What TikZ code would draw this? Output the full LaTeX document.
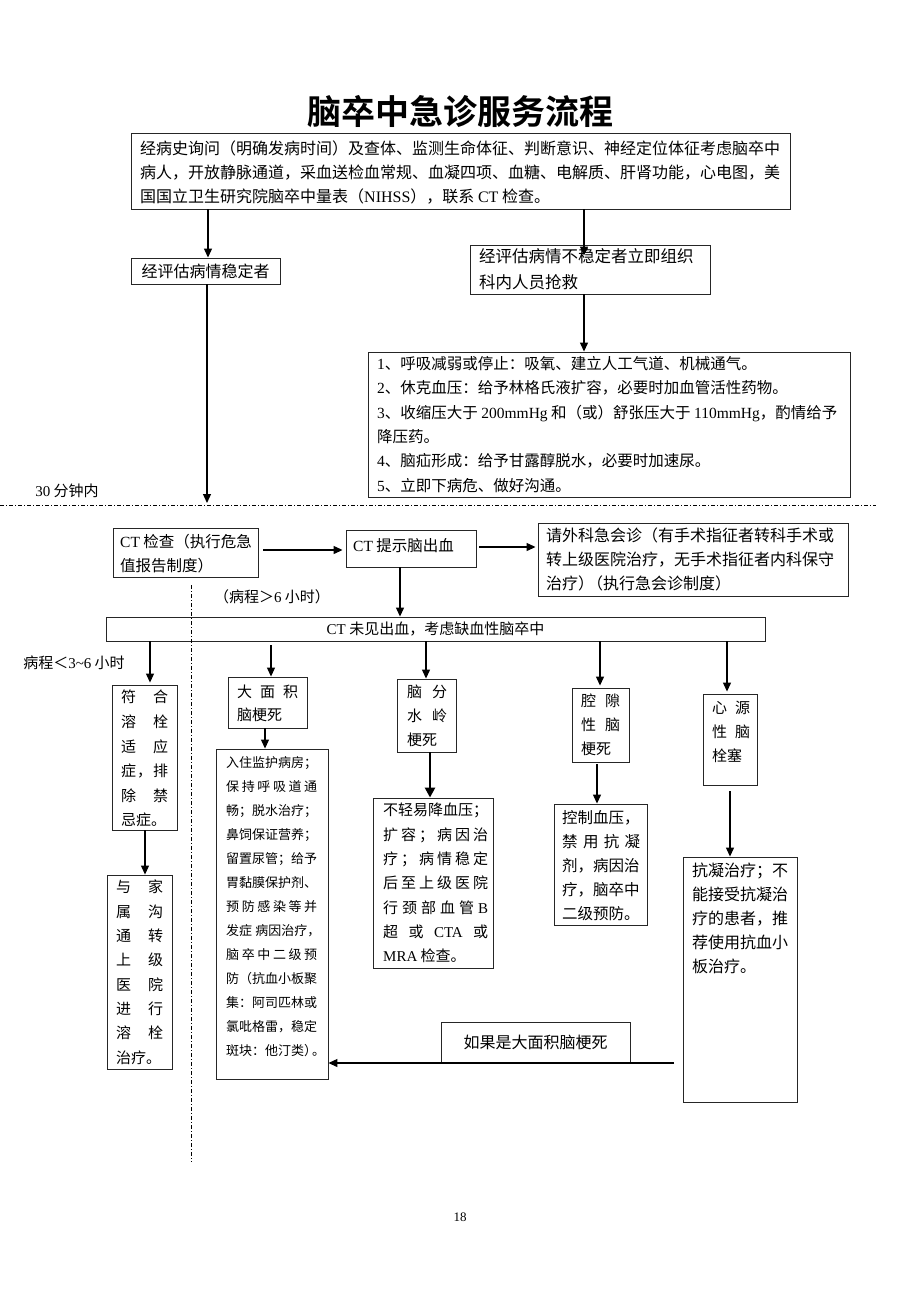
\documentclass[tikz,border=0pt]{standalone}
\usepackage{fontspec}
\setmainfont{Noto Sans CJK SC}[BoldFont={Noto Sans CJK SC Bold}]
\newfontfamily\serifnum{Liberation Serif}
\usetikzlibrary{arrows.meta}
\def\sprdA#1{\ifx#1\relax\else #1\expandafter\sprdB\fi}
\def\sprdB#1{\ifx#1\relax\else\hfill #1\expandafter\sprdB\fi}
\newcommand\J[2]{\hbox to #1{\sprdA#2\relax}}
\newcommand\fsz[2]{\fontsize{#1}{#2}\selectfont}
\newcommand\LT[1]{{\serifnum #1}}
\tikzset{
  bx/.style={draw=black!85, line width=0.9pt, inner sep=0pt},
  txt/.style={anchor=north west, inner sep=0pt, align=left},
  lbl/.style={inner sep=0pt},
  arr/.style={line width=1.2pt, -{Triangle[length=9pt,width=8pt]}},
  dd/.style={line width=0.8pt, dash pattern=on 4pt off 2pt on 1pt off 2pt}
}
\begin{document}
\begin{tikzpicture}[x=1pt,y=-1pt]
\fill[white] (0,0) rectangle (920,1302);
\useasboundingbox (0,0) rectangle (920,1302);

% title
\node[lbl,font=\fsz{34}{40}\bfseries] (title) at (460,112) {脑卒中急诊服务流程};

% boxes
\node[bx,minimum width=659pt,minimum height=76pt] (top) at (460.5,171) {};
\node[bx,minimum width=149pt,minimum height=26pt,font=\fsz{16}{20}] (stable) at (205.5,271) {经评估病情稳定者};
\node[bx,minimum width=240pt,minimum height=49pt] (unstab) at (590,269.5) {};
\node[bx,minimum width=482pt,minimum height=145pt] (meas) at (609,424.5) {};
\node[bx,minimum width=145pt,minimum height=49pt] (ct) at (185.5,552.5) {};
\node[bx,minimum width=130pt,minimum height=37pt] (hem) at (411,548.5) {};
\node[bx,minimum width=310pt,minimum height=73pt] (surg) at (693,559.5) {};
\node[bx,minimum width=659pt,minimum height=24pt,font=\fsz{15}{20}] (isch) at (435.5,629) {\LT{CT} 未见出血，考虑缺血性脑卒中};
\node[bx,minimum width=65pt,minimum height=145pt] (lys) at (144.5,757.5) {};
\node[bx,minimum width=65pt,minimum height=194pt] (fam) at (139.5,972) {};
\node[bx,minimum width=79pt,minimum height=51pt] (large) at (267.5,702.5) {};
\node[bx,minimum width=112pt,minimum height=330pt] (care) at (272,914) {};
\node[bx,minimum width=59pt,minimum height=73pt] (water) at (426.5,715.5) {};
\node[bx,minimum width=120pt,minimum height=170pt] (bp) at (433,883) {};
\node[bx,minimum width=57pt,minimum height=74pt] (lac) at (600.5,725) {};
\node[bx,minimum width=93pt,minimum height=121pt] (ctrl) at (600.5,864.5) {};
\node[bx,minimum width=54pt,minimum height=91pt] (card) at (730,739.5) {};
\node[bx,minimum width=114pt,minimum height=245pt] (anti) at (740,979.5) {};
\node[bx,minimum width=189pt,minimum height=41pt,font=\fsz{16}{20}] (ifl) at (535.5,1042.5) {如果是大面积脑梗死};

% texts
\node[txt,font=\fsz{16}{24}] (ttop) at (140,140.5) {经病史询问（明确发病时间）及查体、监测生命体征、判断意识、神经定位体征考虑脑卒中\\病人，开放静脉通道，采血送检血常规、血凝四项、血糖、电解质、肝肾功能，心电图，美\\国国立卫生研究院脑卒中量表（\LT{NIHSS}），联系 \LT{CT} 检查。};
\node[txt,font=\fsz{16.5}{26}] (tuns) at (479,248.6) {经评估病情不稳定者立即组织\\科内人员抢救};
\node[txt,font=\fsz{15.5}{24.4}] (tmeas) at (377,356) {\LT{1}、呼吸减弱或停止：吸氧、建立人工气道、机械通气。\\\LT{2}、休克血压：给予林格氏液扩容，必要时加血管活性药物。\\\LT{3}、收缩压大于 \LT{200mmHg} 和（或）舒张压大于 \LT{110mmHg}，酌情给予\\降压药。\\\LT{4}、脑疝形成：给予甘露醇脱水，必要时加速尿。\\\LT{5}、立即下病危、做好沟通。};
\node[txt,font=\fsz{15.5}{24}] (tct) at (120,534) {\LT{CT} 检查（执行危急\\值报告制度）};
\node[txt,font=\fsz{15.5}{24}] (themm) at (353,538) {\LT{CT} 提示脑出血};
\node[txt,font=\fsz{16}{24}] (tsurg) at (546,528) {请外科急会诊（有手术指征者转科手术或\\转上级医院治疗，无手术指征者内科保守\\治疗）\kern-0.45em（执行急会诊制度）};
\node[lbl,font=\fsz{15}{20}] (l30) at (67,491) {\LT{30} 分钟内};
\node[lbl,font=\fsz{15}{20}] (lgt6) at (272,597) {（病程＞\LT{6} 小时）};
\node[lbl,font=\fsz{15}{20}] (llt3) at (74,663) {病程＜\LT{3\textasciitilde 6} 小时};
\node[txt,font=\fsz{15}{24.6}] (tlys) at (121,690) {\J{47pt}{符合}\\\J{47pt}{溶栓}\\\J{47pt}{适应}\\\J{47pt}{症，排}\\\J{47pt}{除禁}\\忌症。};
\node[txt,font=\fsz{15}{24.3}] (tfam) at (116,880) {\J{47pt}{与家}\\\J{47pt}{属沟}\\\J{47pt}{通转}\\\J{47pt}{上级}\\\J{47pt}{医院}\\\J{47pt}{进行}\\\J{47pt}{溶栓}\\治疗。};
\node[txt,font=\fsz{15}{23}] (tlarge) at (237,685) {\J{61pt}{大面积}\\脑梗死};
\node[txt,font=\fsz{13}{24}] (tcare) at (226,756) {入住监护病房；\\\J{91pt}{保持呼吸道通}\\畅；脱水治疗；\\鼻饲保证营养；\\留置尿管；给予\\胃黏膜保护剂、\\\J{91pt}{预防感染等并}\\发症\hspace{0.25em}病因治疗，\\\J{91pt}{脑卒中二级预}\\防（抗血小板聚\\集：阿司匹林或\\氯吡格雷，稳定\\斑块：他汀类）\kern-0.4em。};
\node[txt,font=\fsz{15}{24}] (twater) at (407,685) {\J{40pt}{脑分}\\\J{40pt}{水岭}\\梗死};
\node[txt,font=\fsz{15}{24.3}] (tbp) at (383,803) {不轻易降血压；\\\J{105pt}{扩容；病因治}\\\J{105pt}{疗；病情稳定}\\\J{105pt}{后至上级医院}\\\hbox to 105pt{行\hfill 颈\hfill 部\hfill 血\hfill 管\hfill \LT{B}}\\\hbox to 105pt{超\hfill 或\hfill \LT{CTA}\hfill 或}\\\LT{MRA} 检查。};
\node[txt,font=\fsz{15}{24}] (tlac) at (581,694) {\J{39pt}{腔隙}\\\J{39pt}{性脑}\\梗死};
\node[txt,font=\fsz{15.5}{24}] (tctrl) at (562,810) {控制血压，\\\J{78pt}{禁用抗凝}\\剂，病因治\\疗，脑卒中\\二级预防。};
\node[txt,font=\fsz{15}{24}] (tcard) at (712,701) {\J{38pt}{心源}\\\J{38pt}{性脑}\\栓塞};
\node[txt,font=\fsz{16}{24}] (tanti) at (692,863) {抗凝治疗；不\\能接受抗凝治\\疗的患者，推\\荐使用抗血小\\板治疗。};
\node[lbl,font=\serifnum\fsz{13}{16}] (pg) at (460,1217) {18};

% separators
\coordinate (h0) at (0,505);
\coordinate (h1) at (876,505);
\draw[dd] (h0) -- (h1);
\coordinate (v0) at (191,585);
\coordinate (v1) at (191,1162);
\draw[dd] (v0) -- (v1);

% connectors
\draw[arr] ([xshift=2.5pt]stable.north |- top.south) -- ([xshift=2.5pt]stable.north);
\draw[arr] ([xshift=-6pt]unstab.north |- top.south) -- ([xshift=-6pt,yshift=-11pt]unstab.north);
\draw[arr] ([xshift=-6pt]unstab.south) -- ([xshift=-25pt]meas.north);
\coordinate (d1) at (207,503);
\draw[arr] ([xshift=1.5pt]stable.south) -- (d1);
\coordinate (y550) at (0,550);
\draw[arr] ([xshift=5pt]ct.east |- y550) -- ([xshift=-3pt]hem.west |- y550);
\coordinate (y547) at (0,547);
\draw[arr] ([xshift=3pt]hem.east |- y547) -- ([xshift=-2pt]surg.west |- y547);
\draw[arr] ([xshift=-11pt]hem.south) -- ([xshift=-11pt]hem.south |- isch.north);
\draw[arr] ([xshift=5.5pt]lys.north |- isch.south) -- ([xshift=5.5pt,yshift=2pt]lys.north);
\draw[arr] ([xshift=0.5pt]lys.south) -- ([xshift=5.5pt]fam.north);
\draw[arr] ([xshift=3.5pt,yshift=-4pt]large.north |- isch.south) -- ([xshift=3.5pt]large.north);
\draw[arr] ([xshift=-2.5pt]large.south) -- ([xshift=-7pt]care.north);
\draw[arr] ([xshift=-0.5pt]water.north |- isch.south) -- ([xshift=-0.5pt]water.north);
\draw[line width=2.6pt, -{Triangle[length=10pt,width=10pt]}] ([xshift=3.5pt]water.south) -- ([xshift=-3pt]bp.north);
\draw[arr] ([xshift=-0.5pt]lac.north |- isch.south) -- ([xshift=-0.5pt,yshift=2pt]lac.north);
\draw[arr] ([xshift=-3.5pt,yshift=-2pt]lac.south) -- ([xshift=-3.5pt]ctrl.north);
\draw[arr] ([xshift=-3pt]card.north |- isch.south) -- ([xshift=-3pt,yshift=2pt]card.north);
\draw[arr] ([xshift=0pt,yshift=-6pt]card.south) -- ([xshift=-10pt]anti.north);
\coordinate (rt) at (674,1063);
\draw[arr] (rt) -- (rt -| care.east);
\end{tikzpicture}
\end{document}
